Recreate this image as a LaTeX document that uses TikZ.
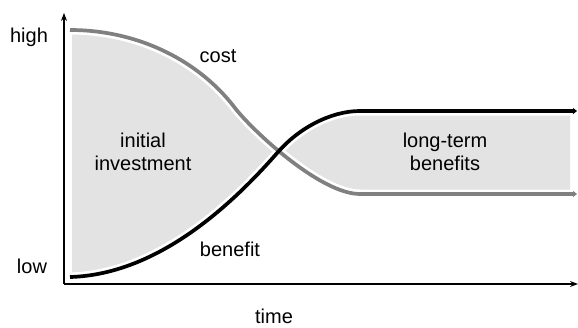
\documentclass[tikz,border=0pt]{standalone}
\usepackage{fontspec}
\setmainfont{Liberation Sans}
\usetikzlibrary{arrows.meta}
\definecolor{fillgray}{HTML}{E3E3E3}
\definecolor{costgray}{HTML}{808080}
\tikzset{
  lbl/.style={font=\fontsize{20}{23}\selectfont, align=center, inner sep=0pt},
  axisline/.style={line width=1.2pt, -{Stealth[length=8pt,width=6pt]}},
  gapline/.style={white, line width=9pt},
  costline/.style={costgray, line width=3.7pt, -{Triangle[length=4pt,width=6pt]}},
  benefitline/.style={black, line width=3.7pt, -{Triangle[length=4pt,width=6pt]}},
}
\begin{document}
\begin{tikzpicture}[x=1pt,y=-1pt]
\useasboundingbox (0,0) rectangle (578,327);
% axes
\coordinate (origin) at (64,284);
\coordinate (ytop) at (64,13);
\coordinate (xend) at (578,284);
% shaded areas
\begin{scope}
  \clip (72,0) rectangle (570,327);
  \fill[fillgray] (70,30) .. controls (140,30) and (200,62) .. (235,108)
     .. controls (252,130) and (320,194) .. (360,194) -- (575,194)
     -- (575,111) -- (360,111) .. controls (330,111) and (298,129) .. (278,152)
     .. controls (210,230) and (140,275) .. (70,277) -- cycle;
\end{scope}
% white gaps
\draw[gapline] (70,30) .. controls (140,30) and (200,62) .. (235,108)
     .. controls (252,130) and (320,194) .. (360,194) -- (572,194);
\draw[gapline] (70,277) .. controls (140,275) and (210,230) .. (278,152)
     .. controls (298,129) and (330,111) .. (360,111) -- (572,111);
% curves
\draw[costline] (70,30) .. controls (140,30) and (200,62) .. (235,108)
     .. controls (252,130) and (320,194) .. (360,194) -- (577,194);
\draw[benefitline] (70,277) .. controls (140,275) and (210,230) .. (278,152)
     .. controls (298,129) and (330,111) .. (360,111) -- (577,111);
\draw[axisline] (origin) -- (ytop);
\draw[axisline] (origin) -- (xend);
% labels
\node[lbl] (high) at (29,37) {high};
\node[lbl] (low) at (32,266) {low};
\node[lbl] (time) at (274,316) {time};
\node[lbl] (cost) at (218,56) {cost};
\node[lbl] (benefit) at (230,249) {benefit};
\node[lbl] (initial) at (143,152) {initial\\investment};
\node[lbl] (longterm) at (445,152) {long-term\\benefits};
\end{tikzpicture}
\end{document}
